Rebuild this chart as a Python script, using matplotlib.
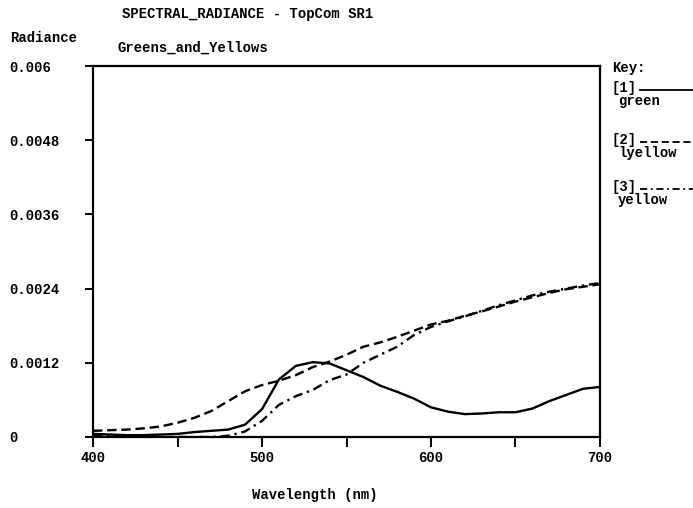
import matplotlib
matplotlib.use("Agg")
import matplotlib.pyplot as plt
from matplotlib.lines import Line2D

# Data
wavelength = [400, 410, 420, 430, 440, 450, 460, 470, 480, 490, 500,
              510, 520, 530, 540, 550, 560, 570, 580, 590, 600,
              610, 620, 630, 640, 650, 660, 670, 680, 690, 700]

green = [0.00005, 0.00004, 0.00003, 0.00003, 0.00004, 0.00005, 0.00008, 0.00010, 0.00012, 0.00020, 0.00045,
         0.00093, 0.00115, 0.00121, 0.00119, 0.00108, 0.00097, 0.00083, 0.00073, 0.00062, 0.00048,
         0.00041, 0.00037, 0.00038, 0.00040, 0.00040, 0.00046, 0.00058, 0.00068, 0.00078, 0.00081]

lyellow = [0.00010, 0.00011, 0.00012, 0.00014, 0.00017, 0.00023, 0.00031, 0.00042, 0.00058, 0.00074, 0.00084,
           0.00091, 0.00100, 0.00113, 0.00122, 0.00133, 0.00146, 0.00153, 0.00162, 0.00172, 0.00182,
           0.00188, 0.00196, 0.00203, 0.00211, 0.00219, 0.00226, 0.00233, 0.00239, 0.00243, 0.00247]

yellow = [0.00002, 0.00002, 0.00001, 0.00001, 0.0, 0.0, 0.0, 0.0, 0.00002, 0.00009, 0.00026,
          0.00052, 0.00066, 0.00076, 0.00092, 0.00101, 0.00120, 0.00133, 0.00146, 0.00165, 0.00178,
          0.00187, 0.00195, 0.00204, 0.00213, 0.00221, 0.00229, 0.00235, 0.00240, 0.00245, 0.00249]

series_names = ["green", "lyellow", "yellow"]
y_ticks = [0, 0.0012, 0.0024, 0.0036, 0.0048, 0.006]
y_tick_labels = ["0", "0.0012", "0.0024", "0.0036", "0.0048", "0.006"]
x_ticks = [400, 500, 600, 700]
x_minor = [450, 550, 650]

plt.rcParams['font.family'] = ['Liberation Mono', 'DejaVu Sans Mono']
plt.rcParams['font.weight'] = 'bold'
fs = 10

fig = plt.figure(figsize=(6.93, 5.08), dpi=100)
ax = fig.add_axes([93/693, 1-437/508, 507/693, 371/508])

lw = 1.7
ax.plot(wavelength, green, color='black', lw=lw, ls='-')
ax.plot(wavelength, lyellow, color='black', lw=lw, ls=(0, (4, 2)))
ax.plot(wavelength, yellow, color='black', lw=lw, ls=(0, (4, 2, 1, 2)))

ax.set_xlim(400, 700)
ax.set_ylim(0, 0.006)
ax.set_xticks(x_ticks)
ax.set_xticks(x_minor, minor=True)
ax.set_yticks(y_ticks)
ax.set_yticklabels(y_tick_labels)
for lab in ax.get_yticklabels():
    lab.set_horizontalalignment('left')
ax.tick_params(axis='y', length=6, width=1.4, pad=54, labelsize=fs)
ax.tick_params(axis='x', which='both', length=7, width=1.4, pad=3, labelsize=fs)
for s in ax.spines.values():
    s.set_linewidth(1.6)

# titles and labels
fig.text(122/693, 1-14/508, "SPECTRAL_RADIANCE - TopCom SR1", fontsize=fs, va='center', ha='left')
fig.text(118/693, 1-48/508, "Greens_and_Yellows", fontsize=fs, va='center', ha='left')
fig.text(10/693, 1-38/508, "Radiance", fontsize=fs, va='center', ha='left')
fig.text(315/693, 1-495/508, "Wavelength (nm)", fontsize=fs, va='center', ha='center')

# key
fig.text(612/693, 1-68/508, "Key:", fontsize=fs, va='center', ha='left')
key_styles = ['-', (0, (4, 2)), (0, (4, 2, 1, 2))]
key_rows = [88, 140, 187]
for i, name in enumerate(series_names):
    yy = 1 - key_rows[i]/508
    fig.text(612/693, yy, "[%d]" % (i + 1), fontsize=fs, va='center', ha='left')
    fig.add_artist(Line2D([640/693, 1.0], [yy - 2/508, yy - 2/508], color='black',
                          lw=1.3, ls=key_styles[i]))
    fig.text(618/693, yy - 13/508, name, fontsize=fs, va='center', ha='left')

fig.savefig("out.png", dpi=100)
